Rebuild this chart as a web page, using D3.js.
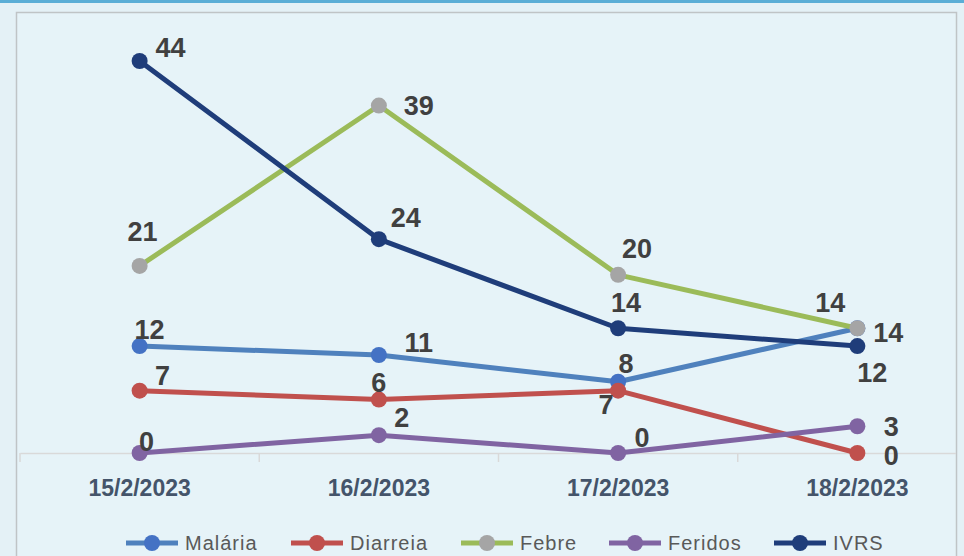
<!DOCTYPE html>
<html>
<head>
<meta charset="utf-8">
<script src="https://cdn.jsdelivr.net/npm/d3@7"></script>
<style>
  body { margin: 0; background: #e4f1f6; }
  svg { display: block; }
</style>
</head>
<body>
<div class="line-chart"></div>
<script>
// data
const dates = ["15/2/2023", "16/2/2023", "17/2/2023", "18/2/2023"];
const seriesNames = ["Malária", "Diarreia", "Febre", "Feridos", "IVRS"];
const malaria = [12, 11, 8, 14];
const diarreia = [7, 6, 7, 0];
const febre = [21, 39, 20, 14];
const feridos = [0, 2, 0, 3];
const ivrs = [44, 24, 14, 12];

const width = 964;
const height = 556;

const series = [
    { name: seriesNames[0], values: malaria, line: "#4f81bd", dot: "#4472c4",
      lab: [[10, -17], [40, -13], [8, -18], [31, 4]] },
    { name: seriesNames[1], values: diarreia, line: "#c0504d", dot: "#c0504d",
      lab: [[23, -15], [0, -17], [-12, 14], [34, 2]] },
    { name: seriesNames[2], values: febre, line: "#9bbb59", dot: "#a5a5a5",
      lab: [[3, -35], [40, 0], [19, -27], [-27, -26]] },
    { name: seriesNames[3], values: feridos, line: "#8064a2", dot: "#8064a2",
      lab: [[7, -12], [23, -18], [24, -16], [34, 0]] },
    { name: seriesNames[4], values: ivrs, line: "#1f3d7a", dot: "#1f3d7a",
      lab: [[31, -14], [27, -22], [8, -26], [15, 26]] }
];

const svg = d3.select('.line-chart').append('svg')
    .attr('width', width)
    .attr('height', height);

// top blue strip
svg.append('line')
    .attr('x1', 0).attr('x2', width)
    .attr('y1', 1.5).attr('y2', 1.5)
    .style('stroke', '#5aaed6')
    .style('stroke-width', 3);

// inner panel
svg.append('rect')
    .attr('x', 16.5).attr('y', 12.5)
    .attr('width', 940).attr('height', 600)
    .style('fill', '#e6f3f8')
    .style('stroke', '#bfc4c6')
    .style('stroke-width', 1.5);

svg.append('clipPath').attr('id', 'panel')
    .append('rect').attr('x', 17).attr('y', 13).attr('width', 939).attr('height', 600);

const x = d3.scaleBand()
    .domain(dates)
    .range([20, 977])
    .padding(0);

const y = d3.scaleLinear()
    .domain([0, 44])
    .range([453, 61]);

const plot = svg.append('g').attr('clip-path', 'url(#panel)');

// category axis
const xAxis = plot.append('g')
    .attr('transform', `translate(0,${y(0)})`)
    .call(d3.axisBottom(x).tickSize(0).tickFormat(''));
xAxis.select('.domain').style('stroke', '#d9d9d9').style('stroke-width', 1.5);

plot.selectAll('.tick-mark')
    .data(dates.concat(['end']))
    .enter()
    .append('line')
    .attr('x1', (d, i) => 20 + i * x.bandwidth())
    .attr('x2', (d, i) => 20 + i * x.bandwidth())
    .attr('y1', y(0))
    .attr('y2', y(0) + 9)
    .style('stroke', '#d9d9d9')
    .style('stroke-width', 1.5);

svg.selectAll('.date-label')
    .data(dates)
    .enter()
    .append('text')
    .attr('x', d => x(d) + x.bandwidth() / 2)
    .attr('y', 496)
    .attr('text-anchor', 'middle')
    .style('font-family', 'Liberation Sans, Arial, sans-serif')
    .style('font-weight', 'bold')
    .style('font-size', '23px')
    .style('fill', '#44546a')
    .text(d => d);

const cx = (d, i) => x(dates[i]) + x.bandwidth() / 2;

const line = d3.line()
    .x(cx)
    .y(d => y(d));

series.forEach(s => {
    const g = plot.append('g');
    g.append('path')
        .datum(s.values)
        .attr('d', line)
        .style('fill', 'none')
        .style('stroke', s.line)
        .style('stroke-width', 5)
        .style('stroke-linejoin', 'round');
    g.selectAll('circle')
        .data(s.values)
        .enter()
        .append('circle')
        .attr('cx', cx)
        .attr('cy', d => y(d))
        .attr('r', 8)
        .style('fill', s.dot);
});

// data labels on top
series.forEach(s => {
    svg.append('g').selectAll('text')
        .data(s.values)
        .enter()
        .append('text')
        .attr('x', (d, i) => cx(d, i) + s.lab[i][0])
        .attr('y', (d, i) => y(d) + s.lab[i][1])
        .attr('dy', '0.36em')
        .attr('text-anchor', 'middle')
        .style('font-family', 'Liberation Sans, Arial, sans-serif')
        .style('font-weight', 'bold')
        .style('font-size', '27px')
        .style('fill', '#404040')
        .text(d => d);
});

// legend
const legendX = [126, 291, 461, 609, 774];
const legend = svg.append('g')
    .selectAll('g')
    .data(series)
    .enter()
    .append('g')
    .attr('transform', (d, i) => `translate(${legendX[i]},543)`);

legend.append('line')
    .attr('x1', 0).attr('x2', 52)
    .style('stroke', d => d.line)
    .style('stroke-width', 5);
legend.append('circle')
    .attr('cx', 26)
    .attr('r', 8)
    .style('fill', d => d.dot);
legend.append('text')
    .attr('x', 59)
    .attr('dy', '0.36em')
    .style('font-family', 'Liberation Sans Narrow, Liberation Sans, Arial, sans-serif')
    .style('font-size', '20px')
    .style('letter-spacing', '1px')
    .style('fill', '#595959')
    .text(d => d.name);
</script>
</body>
</html>
